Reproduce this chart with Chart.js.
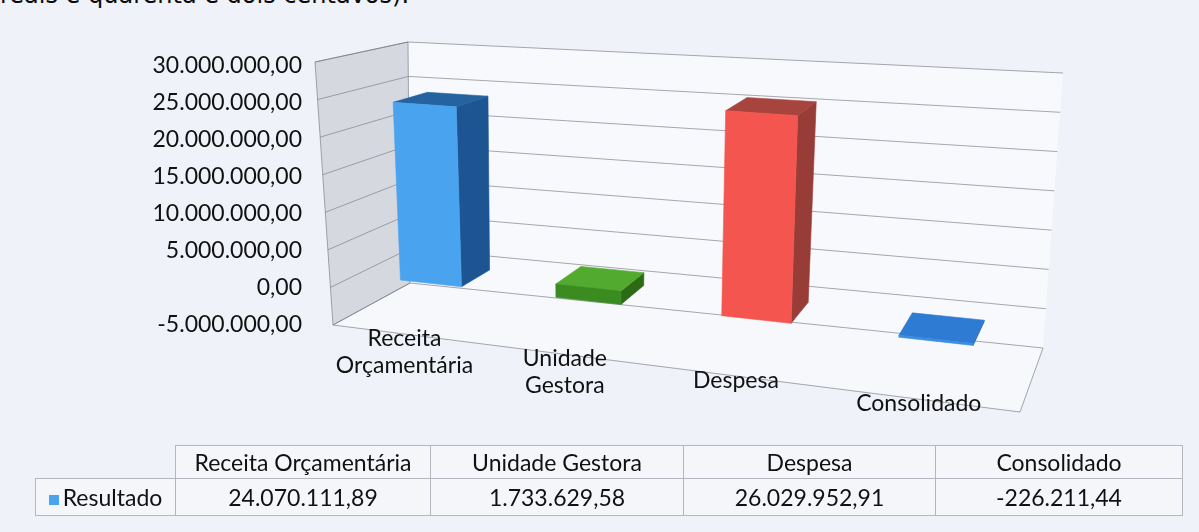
<!DOCTYPE html>
<html lang="pt-BR">
<head>
<meta charset="utf-8">
<title>Resultado</title>
<script src="https://cdn.jsdelivr.net/npm/chart.js@4.4.1/dist/chart.umd.min.js"></script>
<style>
  html, body { margin: 0; padding: 0; }
  body {
    width: 1199px; height: 532px; overflow: hidden; position: relative;
    background: #eff2f8; color: #111;
    font-family: Lato, "Open Sans", sans-serif;
  }
  #lead {
    position: absolute; left: 0; top: -19px;
    font: 24px/28px "DejaVu Sans", sans-serif; color: #0a0a0a; white-space: nowrap;
  }
  #chart { position: absolute; left: 0; top: 0; }
  #tbl {
    position: absolute; left: 35px; top: 445px;
    border-collapse: collapse; font-size: 23px; color: #111;
  }
  #tbl td {
    border: 1px solid #b4b7bf; text-align: center; padding: 0; white-space: nowrap;
    background: rgba(255,255,255,0.35);
  }
  #tbl tr.head td { height: 32px; }
  #tbl tr.vals td { height: 36px; }
  #tbl td.blank { border: none; background: transparent; }
  #tbl .key {
    display: inline-block; width: 10px; height: 10px; margin-right: 4px;
    background: #4aa3ee; vertical-align: 1px;
  }
</style>
</head>
<body>
<div id="lead">reais e quarenta e dois centavos).</div>
<canvas id="chart" width="1199" height="532"></canvas>
<table id="tbl">
  <colgroup>
    <col style="width:140px"><col style="width:255px"><col style="width:253px"><col style="width:252px"><col style="width:247px">
  </colgroup>
  <tbody>
    <tr class="head" id="headRow"><td class="blank"></td></tr>
    <tr class="vals" id="valRow"></tr>
  </tbody>
</table>
<script>
// ---- data ----
const categories = ['Receita Orçamentária', 'Unidade Gestora', 'Despesa', 'Consolidado'];
const seriesName = 'Resultado';
const resultado = [24070111.89, 1733629.58, 26029952.91, -226211.44];
const axisMin = -5000000;
const axisMax = 30000000;
const axisStep = 5000000;

// ---- styles ----
const frontColors = ['#4aa3ee', '#3b8c20', '#f4564f', '#3a8ce0'];
const sideColors  = ['#1d5593', '#2c6a16', '#983c37', '#1f5a9e'];
const topColors   = ['#24639f', '#52ab2e', '#a8443e', '#2e7bd4'];
const gridColor = 'rgba(120,122,135,0.65)';
const wallFill = 'rgba(206,207,216,0.75)';
const labelFont = '23px Lato, "Open Sans", sans-serif';

// pt-BR number format: 1.234.567,89
function formatBR(n) {
  const neg = n < 0;
  const [ip, dp] = Math.abs(n).toFixed(2).split('.');
  return (neg ? '-' : '') + ip.replace(/\B(?=(\d{3})+(?!\d))/g, '.') + ',' + dp;
}

// data table under the chart
(function buildTable() {
  const head = document.getElementById('headRow');
  const vals = document.getElementById('valRow');
  const first = document.createElement('td');
  first.innerHTML = '<span class="key"></span>' + seriesName;
  vals.appendChild(first);
  categories.forEach((c, i) => {
    const h = document.createElement('td'); h.textContent = c; head.appendChild(h);
    const v = document.createElement('td'); v.textContent = formatBR(resultado[i]); vals.appendChild(v);
  });
})();

// 3D box frame, expressed relative to the chart area (perspective view of the plot box)
function frameCorners(ca) {
  return {
    b: { FL: [ca.left + 18, ca.bottom], BL: [ca.left + 95, ca.bottom - 42],
         BR: [ca.right + 3, ca.bottom + 23], FR: [ca.right - 20, ca.bottom + 87] },
    t: { FL: [ca.left, ca.top - 4], BL: [ca.left + 93, ca.top - 24],
         BR: [ca.right + 23, ca.top + 7], FR: [ca.right + 1, ca.top + 46] }
  };
}
// relative camera depth of each vertical edge (far edges weigh more)
const depthWeight = { FL: 1, BL: 1.091, BR: 0.956, FR: 0.877 };

function makeProjector(ca) {
  const c = frameCorners(ca);
  const edges = [['FL', 0, 0], ['FR', 1, 0], ['BL', 0, 1], ['BR', 1, 1]];
  // X: along categories (0..1), F: value fraction (0..1), Z: depth (0 front .. 1 back)
  return (X, F, Z) => {
    let sx = 0, sy = 0, sw = 0;
    for (const [key, kx, kz] of edges) {
      const w = depthWeight[key] * (kx ? X : 1 - X) * (kz ? Z : 1 - Z);
      const pb = c.b[key], pt = c.t[key];
      sx += w * ((1 - F) * pb[0] + F * pt[0]);
      sy += w * ((1 - F) * pb[1] + F * pt[1]);
      sw += w;
    }
    return [sx / sw, sy / sw];
  };
}

function poly(ctx, pts, fill, stroke, lw) {
  ctx.beginPath();
  pts.forEach((p, i) => i ? ctx.lineTo(p[0], p[1]) : ctx.moveTo(p[0], p[1]));
  ctx.closePath();
  if (fill) { ctx.fillStyle = fill; ctx.fill(); }
  if (stroke) { ctx.strokeStyle = stroke; ctx.lineWidth = lw || 1; ctx.stroke(); }
}
function line(ctx, a, b, color) {
  ctx.beginPath(); ctx.moveTo(a[0], a[1]); ctx.lineTo(b[0], b[1]);
  ctx.strokeStyle = color; ctx.lineWidth = 1; ctx.stroke();
}

const bars3d = {
  id: 'bars3d',
  beforeDatasetsDraw(chart) {
    const ctx = chart.ctx, ca = chart.chartArea;
    const xs = chart.scales.x, ys = chart.scales.y;
    const P = makeProjector(ca);
    const F = v => (ys.bottom - ys.getPixelForValue(v)) / (ys.bottom - ys.top);
    const X = px => (px - xs.left) / (xs.right - xs.left);

    ctx.save();
    // back wall and floor
    poly(ctx, [P(0,0,1), P(1,0,1), P(1,1,1), P(0,1,1)], 'rgba(255,255,255,0.55)');
    poly(ctx, [P(0,0,0), P(1,0,0), P(1,0,1), P(0,0,1)], 'rgba(255,255,255,0.45)');
    // side wall
    poly(ctx, [P(0,0,0), P(0,0,1), P(0,1,1), P(0,1,0)], wallFill, gridColor);

    // gridlines on the side wall and the back wall
    ys.ticks.forEach(t => {
      const f = F(t.value);
      line(ctx, P(0, f, 0), P(0, f, 1), gridColor);
      line(ctx, P(0, f, 1), P(1, f, 1), gridColor);
    });
    // floor outline
    line(ctx, P(0,0,0), P(1,0,0), gridColor);
    line(ctx, P(1,0,0), P(1,0,1), gridColor);

    // columns
    const meta = chart.getDatasetMeta(0);
    const data = chart.data.datasets[0].data;
    const z0 = 0.3, z1 = 0.7;
    const f0 = F(0);
    meta.data.forEach((el, i) => {
      const x0 = X(el.x - el.width / 2), x1 = X(el.x + el.width / 2);
      const fv = F(data[i]);
      const lo = Math.min(f0, fv), hi = Math.max(f0, fv);
      // right side
      poly(ctx, [P(x1,lo,z0), P(x1,lo,z1), P(x1,hi,z1), P(x1,hi,z0)], sideColors[i], sideColors[i], 0.6);
      // top
      poly(ctx, [P(x0,hi,z0), P(x1,hi,z0), P(x1,hi,z1), P(x0,hi,z1)], topColors[i], topColors[i], 0.6);
      // front
      poly(ctx, [P(x0,lo,z0), P(x1,lo,z0), P(x1,hi,z0), P(x0,hi,z0)], frontColors[i], frontColors[i], 0.6);
    });

    // category labels along the front edge of the floor
    ctx.font = labelFont;
    ctx.fillStyle = '#111';
    ctx.textAlign = 'center';
    ctx.textBaseline = 'middle';
    chart.data.labels.forEach((lbl, i) => {
      const p = P(X(xs.getPixelForValue(i)), 0, 0);
      lbl.split(' ').forEach((part, k) => ctx.fillText(part, p[0] - 5, p[1] + 4 + k * 27));
    });
    ctx.restore();
    return false;
  }
};

new Chart(document.getElementById('chart'), {
  type: 'bar',
  data: {
    labels: categories,
    datasets: [{
      label: seriesName,
      data: resultado,
      backgroundColor: frontColors,
      barPercentage: 0.4,
      categoryPercentage: 1
    }]
  },
  options: {
    responsive: false,
    animation: false,
    layout: { padding: { top: 66, bottom: 207, left: 0, right: 159 } },
    plugins: { legend: { display: false }, tooltip: { enabled: false } },
    scales: {
      x: { display: false, offset: true },
      y: {
        min: axisMin, max: axisMax,
        ticks: {
          stepSize: axisStep,
          padding: 13,
          color: '#111',
          font: { family: 'Lato, "Open Sans", sans-serif', size: 23 },
          callback: v => formatBR(v)
        },
        grid: { display: false, drawTicks: false },
        border: { display: false },
        afterFit(scale) { scale.width = 315; }
      }
    }
  },
  plugins: [bars3d]
});
</script>
</body>
</html>
